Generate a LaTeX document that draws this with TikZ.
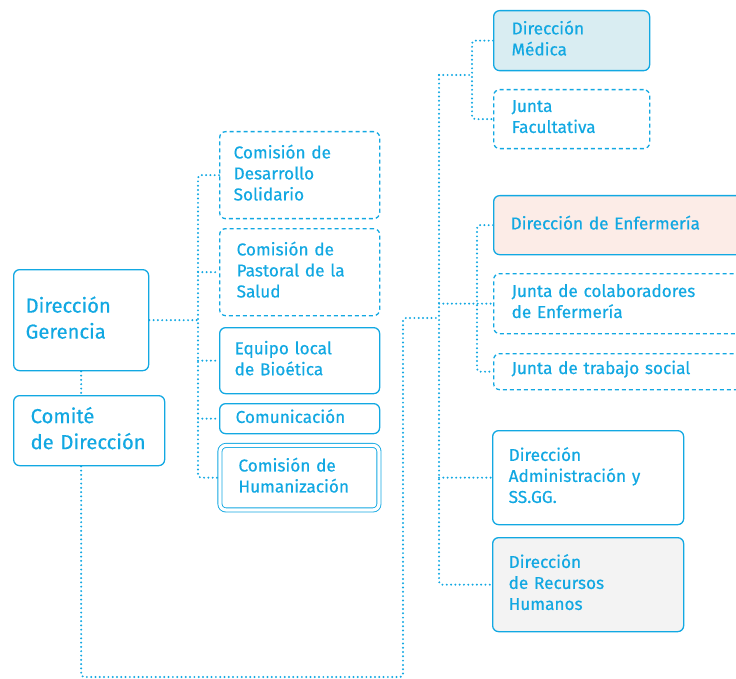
\documentclass[tikz,border=0pt]{standalone}
\usepackage{fontspec}
\setmainfont{Fira Sans}[FakeBold=0.5]
\definecolor{SkyBlue}{RGB}{18, 168, 226}
\definecolor{MedFill}{RGB}{217, 237, 242}
\definecolor{EnfFill}{RGB}{252, 236, 231}
\definecolor{HrFill}{RGB}{243, 243, 243}
\usetikzlibrary{positioning, calc}

\tikzset{
  unit/.style={draw=SkyBlue, line width=1.3pt, rounded corners=6pt, align=left,
    text=SkyBlue, anchor=north west, inner ysep=0pt,
    font=\fontsize{17.2}{21}\selectfont,
    execute at end node={\par\vspace{5pt}}},
  board/.style={unit, dash pattern=on 4pt off 3pt},
  head/.style={unit, font=\fontsize{20.2}{26}\selectfont},
  link/.style={draw=SkyBlue, line width=2.2pt, line cap=round,
    dash pattern=on 0pt off 4.3pt, rounded corners=3pt}
}

\begin{document}
\begin{tikzpicture}[x=1pt, y=-1pt]
  \clip (0,0) rectangle (736,679);

  % Dirección y comité
  \node[head, text width=111pt, inner xsep=12pt, minimum height=101pt] (gerencia) at (13,269) {Dirección\\Gerencia};
  \node[head, text width=117pt, inner xsep=17pt, minimum height=70pt] (comite) at (13,395) {Comité\\de Dirección};

  % Comisiones
  \node[board, text width=132pt, inner xsep=14pt, minimum height=87pt] (desarrollo) at (219,131) {Comisión de\\Desarrollo\\Solidario};
  \node[board, text width=126pt, inner xsep=17pt, minimum height=87pt] (pastoral) at (219,228) {Comisión de\\Pastoral de la\\Salud};
  \node[unit, text width=130pt, inner xsep=15pt, minimum height=66pt] (bioetica) at (219,327) {Equipo local\\de Bioética};
  \node[unit, text width=128pt, inner xsep=16pt, minimum height=30pt] (comunicacion) at (219,403) {Comunicación};
  \node[unit, double, double distance=3.2pt, line width=0.9pt, text width=122pt, inner xsep=18.5pt,
    minimum height=64.5pt] (humanizacion) at (219.5,445) {Comisión de\\Humanización};

  % Direcciones
  \node[unit, fill=MedFill, text width=120pt, inner xsep=18pt, minimum height=60pt] (medica) at (493,10) {Dirección\\Médica};
  \node[board, text width=120pt, inner xsep=18pt, minimum height=59pt] (facultativa) at (493,89) {Junta\\Facultativa};
  \node[unit, fill=EnfFill, text width=226pt, inner xsep=17pt, minimum height=59pt] (enfermeria) at (493,195) {Dirección de Enfermería};
  \node[board, text width=224pt, inner xsep=18pt, minimum height=60pt] (colaboradores) at (493,273) {Junta de colaboradores\\de Enfermería};
  \node[board, text width=224pt, inner xsep=18pt, minimum height=36pt] (social) at (493,353) {Junta de trabajo social};
  \node[unit, text width=159pt, inner xsep=16pt, minimum height=94pt] (admin) at (492,430) {Dirección\\Administración y\\SS.GG.};
  \node[unit, fill=HrFill, text width=159pt, inner xsep=16pt, minimum height=94pt] (rrhh) at (492,537) {Dirección\\de Recursos\\Humanos};

  % Troncos
  \coordinate (lt) at (198,0);
  \coordinate (rt) at (439,0);
  \coordinate (mt) at (472,0);
  \coordinate (et) at (477,0);
  \coordinate (loop) at (403,677);

  \draw[link] (gerencia.south) -- (gerencia.south |- comite.north);
  \draw[link] (gerencia.east) -- (gerencia.east -| lt);
  \draw[link] (desarrollo.west) -- (desarrollo.west -| lt) -- (humanizacion.west -| lt) -- (humanizacion.west);
  \draw[link] (pastoral.west -| lt) -- (pastoral.west);
  \draw[link] (bioetica.west -| lt) -- (bioetica.west);
  \draw[link] (comunicacion.west -| lt) -- (comunicacion.west);

  \draw[link] (gerencia.south |- comite.south) -- (gerencia.south |- loop) -- (loop) -- (loop |- 0,318) -- (rt |- 0,318);
  \draw[link] (rt |- 0,75) -- (rt |- rrhh.west) -- (rrhh.west);
  \draw[link] (rt |- colaboradores.west) -- (colaboradores.west);
  \draw[link] (rt |- admin.west) -- (admin.west);

  \draw[link] (rt |- 0,75) -- (mt |- 0,75);
  \draw[link] (medica.west) -- (medica.west -| mt) -- (facultativa.west -| mt) -- (facultativa.west);
  \draw[link] (enfermeria.west) -- (enfermeria.west -| et) -- (social.west -| et) -- (social.west);
\end{tikzpicture}
\end{document}
